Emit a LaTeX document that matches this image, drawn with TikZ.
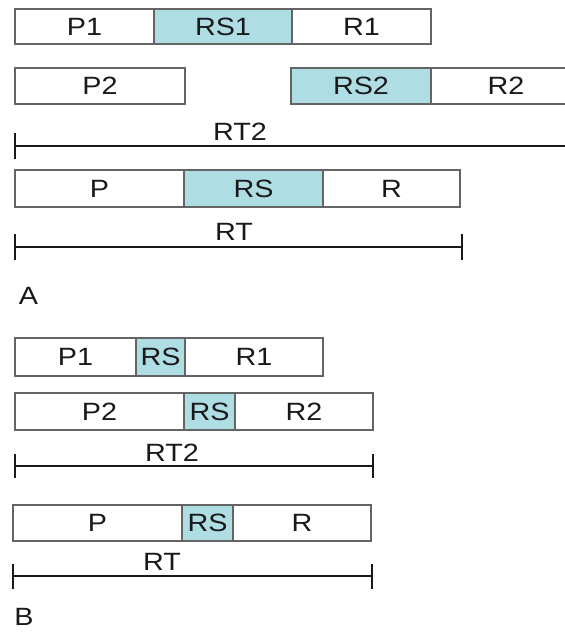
\documentclass[tikz,border=0pt]{standalone}
\usepackage{fontspec}
\setmainfont[FakeStretch=1.15]{Liberation Sans}
\definecolor{segborder}{RGB}{100,100,100}
\definecolor{rsfill}{RGB}{174,221,227}
\definecolor{dimcol}{RGB}{25,25,25}
\begin{document}
\begin{tikzpicture}[x=1pt,y=-1pt,
  txt/.style={font=\fontsize{25}{29}\selectfont, text=black!90, inner sep=0pt},
  seg/.style={txt, rectangle, draw=segborder, line width=1.5pt, fill=white, anchor=center},
  rsseg/.style={seg, fill=rsfill},
  dimline/.style={draw=dimcol, line width=2pt},
  panel/.style={txt}
]
\clip (0,0) rectangle (565,632);
\fill[white] (0,0) rectangle (565,632);

% ---------- Panel A ----------
% row 1
\node[seg,   minimum width=139pt, minimum height=35pt] (p1a)  at (84.5,26.5) {P1};
\node[rsseg, minimum width=138pt, minimum height=35pt] (rs1a) at (223,26.5)  {RS1};
\node[seg,   minimum width=139pt, minimum height=35pt] (r1a)  at (361.5,26.5) {R1};
% row 2
\node[seg,   minimum width=170pt, minimum height=36pt] (p2a)  at (100,86)   {P2};
\node[rsseg, minimum width=140pt, minimum height=36pt] (rs2a) at (361,86)   {RS2};
\node[seg,   minimum width=150pt, minimum height=36pt] (r2a)  at (506,86)   {R2};
% RT2 dimension
\coordinate (rt2al) at (15,146);
\coordinate (rt2ar) at (590,146);
\draw[dimline] (rt2al) -- (rt2ar);
\draw[dimline] ([yshift=-13pt]rt2al) -- ([yshift=13pt]rt2al);
\node[txt] (rt2alab) at (240,131.5) {RT2};
% row 3
\node[seg,   minimum width=169pt, minimum height=37pt] (pa)  at (99.5,188.5)  {P};
\node[rsseg, minimum width=139pt, minimum height=37pt] (rsa) at (253.5,188.5) {RS};
\node[seg,   minimum width=137pt, minimum height=37pt] (ra)  at (391.5,188.5) {R};
% RT dimension
\coordinate (rtal) at (15,247);
\coordinate (rtar) at (462,247);
\draw[dimline] (rtal) -- (rtar);
\draw[dimline] ([yshift=-13pt]rtal) -- ([yshift=13pt]rtal);
\draw[dimline] ([yshift=-13pt]rtar) -- ([yshift=13pt]rtar);
\node[txt] (rtalab) at (234,232) {RT};
\node[panel] (labA) at (28.5,296) {A};

% ---------- Panel B ----------
% row 1
\node[seg,   minimum width=121pt, minimum height=38pt] (p1b)  at (75.5,357)  {P1};
\node[rsseg, minimum width=49pt,  minimum height=38pt] (rs1b) at (160.5,357) {RS};
\node[seg,   minimum width=138pt, minimum height=38pt] (r1b)  at (254,357)   {R1};
% row 2
\node[seg,   minimum width=169pt, minimum height=37pt] (p2b)  at (99.5,411.5)  {P2};
\node[rsseg, minimum width=51pt,  minimum height=37pt] (rs2b) at (209.5,411.5)  {RS};
\node[seg,   minimum width=138pt, minimum height=37pt] (r2b)  at (304,411.5)    {R2};
% RT2 dimension
\coordinate (rt2bl) at (15,466);
\coordinate (rt2br) at (373,466);
\draw[dimline] (rt2bl) -- (rt2br);
\draw[dimline] ([yshift=-12pt]rt2bl) -- ([yshift=12pt]rt2bl);
\draw[dimline] ([yshift=-12pt]rt2br) -- ([yshift=12pt]rt2br);
\node[txt] (rt2blab) at (172,453) {RT2};
% row 3
\node[seg,   minimum width=169pt, minimum height=36pt] (pb)  at (97.5,523)  {P};
\node[rsseg, minimum width=51pt,  minimum height=36pt] (rsb) at (207.5,523) {RS};
\node[seg,   minimum width=138pt, minimum height=36pt] (rb)  at (302,523)   {R};
% RT dimension
\coordinate (rtbl) at (13,576);
\coordinate (rtbr) at (372,576);
\draw[dimline] (rtbl) -- (rtbr);
\draw[dimline] ([yshift=-12.5pt]rtbl) -- ([yshift=12.5pt]rtbl);
\draw[dimline] ([yshift=-12.5pt]rtbr) -- ([yshift=12.5pt]rtbr);
\node[txt] (rtblab) at (162,562) {RT};
\node[panel] (labB) at (24,617) {B};
\end{tikzpicture}
\end{document}
